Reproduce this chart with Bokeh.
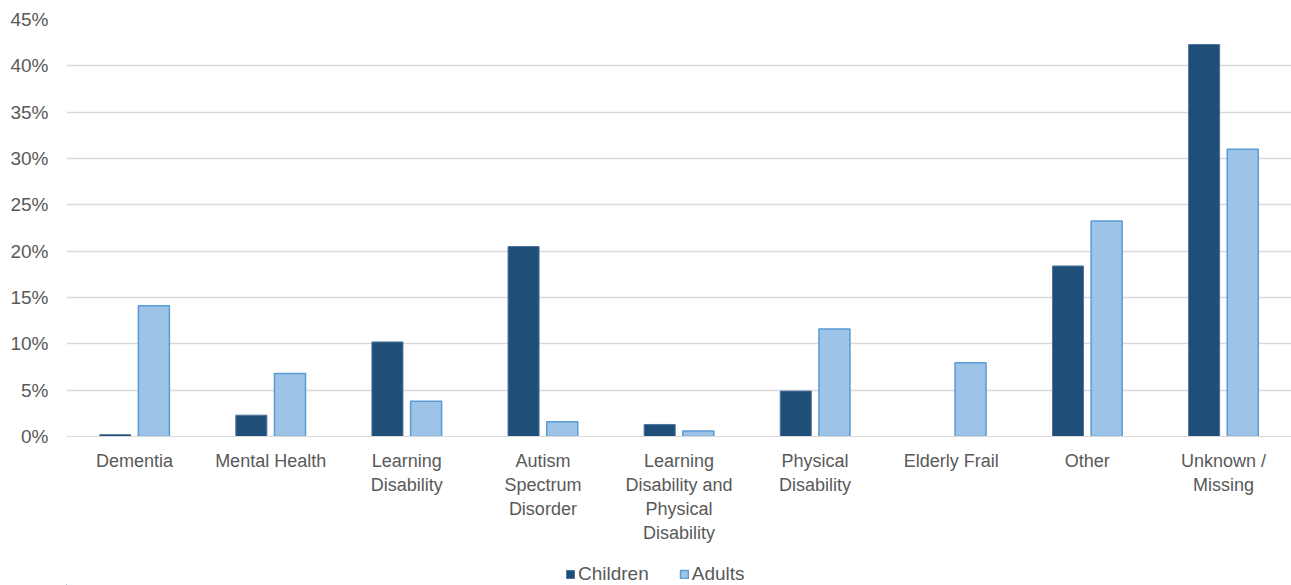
from bokeh.plotting import figure
from bokeh.layouts import column
from bokeh.models import (ColumnDataSource, FixedTicker, NumeralTickFormatter,
                          Legend, LegendItem, Range1d)
from bokeh.embed import file_html
from bokeh.resources import INLINE

# Share of people in each primary support reason group
categories = ["Dementia", "Mental Health", "Learning\nDisability",
              "Autism\nSpectrum\nDisorder",
              "Learning\nDisability and\nPhysical\nDisability",
              "Physical\nDisability", "Elderly Frail", "Other",
              "Unknown /\nMissing"]
children = [0.2, 2.3, 10.2, 20.5, 1.3, 4.9, 0.0, 18.4, 42.3]
adults = [14.1, 6.8, 3.8, 1.6, 0.6, 11.6, 7.95, 23.25, 31.0]
y_ticks = [0, 5, 10, 15, 20, 25, 30, 35, 40, 45]

FONT = "Liberation Sans"
TEXT = "#595959"
CHILD_FILL, CHILD_LINE = "#1F4E79", "#4F7399"
ADULT_FILL, ADULT_LINE = "#9DC3E6", "#5B9BD5"
n = len(categories)
centers = [i + 0.5 for i in range(n)]

src = ColumnDataSource(dict(
    xc=[c - 0.142 for c in centers],
    xa=[c + 0.142 for c in centers],
    children=[v / 100 for v in children],
    adults=[v / 100 for v in adults],
))

p = figure(width=1291, height=559, output_backend="svg", toolbar_location=None,
           x_range=Range1d(0, n), y_range=Range1d(0, 0.45),
           min_border_left=66, min_border_right=0, min_border_top=19,
           min_border_bottom=123)
p.outline_line_color = None
p.background_fill_color = "white"
p.border_fill_color = "white"

p.vbar(x="xc", top="children", width=0.228, source=src,
       fill_color=CHILD_FILL, line_color=CHILD_LINE, line_width=1)
p.vbar(x="xa", top="adults", width=0.228, source=src,
       fill_color=ADULT_FILL, line_color=ADULT_LINE, line_width=1.5)

# y axis
p.yaxis.ticker = FixedTicker(ticks=[t / 100 for t in y_ticks])
p.yaxis.formatter = NumeralTickFormatter(format="0%")
p.yaxis.axis_line_color = None
p.yaxis.major_tick_line_color = None
p.yaxis.minor_tick_line_color = None
p.yaxis.major_tick_out = 0
p.yaxis.major_label_standoff = 18
p.yaxis.major_label_text_font = FONT
p.yaxis.major_label_text_font_size = "19px"
p.yaxis.major_label_text_color = TEXT

# x axis with wrapped category labels
p.xaxis.ticker = FixedTicker(ticks=centers)
p.xaxis.major_label_overrides = {c: lab for c, lab in zip(centers, categories)}
p.xaxis.axis_line_color = "#D9D9D9"
p.xaxis.axis_line_width = 1
p.xaxis.major_tick_line_color = None
p.xaxis.minor_tick_line_color = None
p.xaxis.major_tick_out = 0
p.xaxis.major_label_standoff = 14
p.xaxis.major_label_text_font = FONT
p.xaxis.major_label_text_font_size = "18px"
p.xaxis.major_label_text_color = TEXT

p.xgrid.grid_line_color = None
p.ygrid.grid_line_color = "#D9D9D9"
p.ygrid.grid_line_width = 1.5

# legend strip underneath the chart; its bars sit outside the visible range
leg = figure(width=1291, height=26, output_backend="svg", toolbar_location=None,
             x_range=Range1d(100, 101), y_range=Range1d(10, 11),
             x_axis_location=None, y_axis_location=None, min_border=0)
leg.grid.visible = False
leg.outline_line_color = None
lc = leg.vbar(x="xc", top="children", width=0.228, source=src,
              fill_color=CHILD_FILL, line_color=CHILD_LINE, line_width=1)
la = leg.vbar(x="xa", top="adults", width=0.228, source=src,
              fill_color=ADULT_FILL, line_color=ADULT_LINE, line_width=1.5)

legend = Legend(items=[LegendItem(label="Children", renderers=[lc]),
                       LegendItem(label="Adults", renderers=[la])],
                orientation="horizontal", location=(499, 0),
                glyph_width=10, glyph_height=10, label_standoff=3,
                spacing=30, padding=0, margin=0,
                label_text_font=FONT, label_text_font_size="19px",
                label_text_color=TEXT, background_fill_alpha=0,
                border_line_color=None)
leg.add_layout(legend, "center")

open("out.html", "w").write(file_html(column(p, leg, spacing=0), INLINE))
